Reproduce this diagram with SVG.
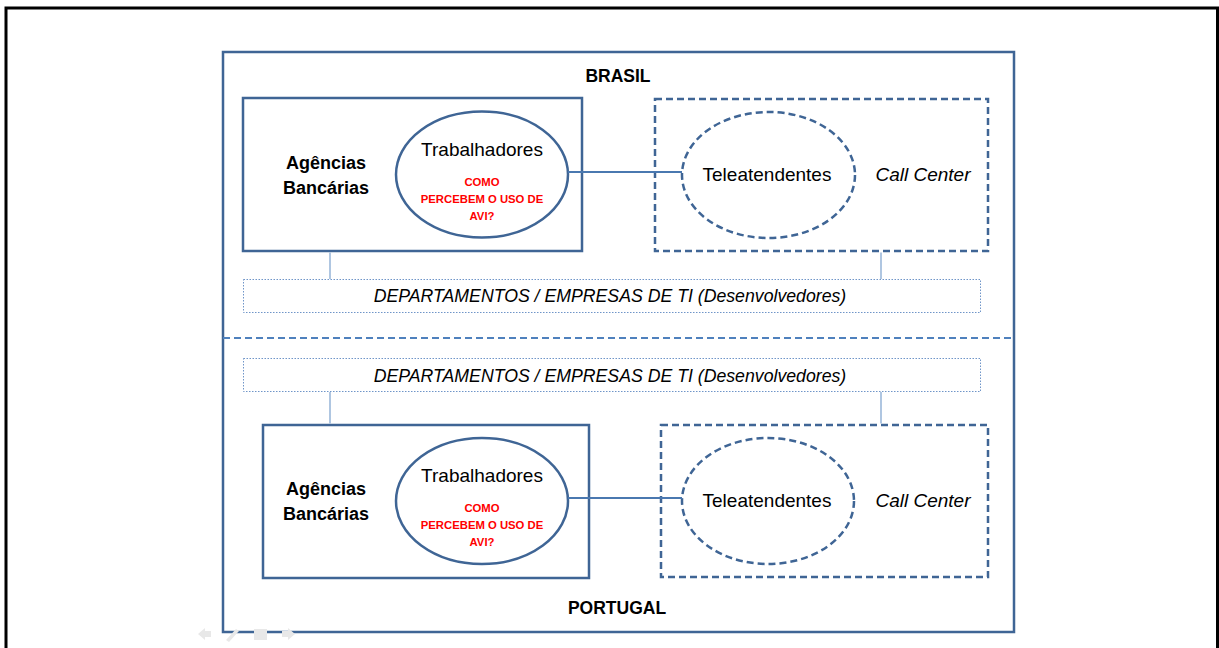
<svg xmlns="http://www.w3.org/2000/svg" width="1219" height="648" viewBox="0 0 1219 648">
<style>
text{font-family:"Liberation Sans",Arial,sans-serif;fill:#000}
.title{font-weight:bold;font-size:17.5px;text-anchor:middle}
.ag{font-weight:bold;font-size:18px;text-anchor:middle}
.main{font-size:19px;text-anchor:middle}
.red{font-weight:bold;font-size:11.3px;fill:#ff0000;text-anchor:middle}
.it{font-style:italic;font-size:17.7px;text-anchor:middle}
.cc{font-style:italic;font-size:19px;text-anchor:middle}
.solid{fill:#fff;stroke:#3f6595;stroke-width:2.5}
.dash{fill:none;stroke:#3f6595;stroke-width:2.5;stroke-dasharray:7 4}
.dept{fill:#fff;stroke:#6f95c8;stroke-width:1;stroke-dasharray:1.5 1.5}
.conn{stroke:#4a78b0;stroke-width:2;fill:none}
.thin{stroke:#95b3d7;stroke-width:1.5;fill:none}
</style>
<rect x="0" y="0" width="1219" height="648" fill="#fff"/>
<rect x="6" y="8" width="1211.5" height="660" fill="none" stroke="#000" stroke-width="3"/>
<g id="frame">
<rect x="223" y="52" width="791" height="580" fill="#fff" stroke="#3f6595" stroke-width="2.5"/>
<line x1="223" y1="338" x2="1014" y2="338" stroke="#4f81bd" stroke-width="2" stroke-dasharray="7 4"/>
<text class="title" x="618" y="82">BRASIL</text>
<text class="title" x="617" y="614">PORTUGAL</text>
</g>
<g id="br-agencias">
<rect class="solid" x="243" y="98" width="339" height="153"/>
<text class="ag" x="326" y="169">Agências</text>
<text class="ag" x="326" y="194">Bancárias</text>
</g>
<g id="br-trabalhadores">
<ellipse class="solid" cx="482" cy="174.5" rx="86" ry="63"/>
<text class="main" x="482" y="156">Trabalhadores</text>
<text class="red" x="482" y="186">COMO</text>
<text class="red" x="482" y="203">PERCEBEM O USO DE</text>
<text class="red" x="482" y="220">AVI?</text>
</g>
<g id="br-callcenter">
<rect class="dash" x="655" y="99" width="333" height="152"/>
<text class="cc" x="923" y="181">Call Center</text>
</g>
<g id="br-teleatendentes">
<ellipse class="dash" cx="768.5" cy="175" rx="86.5" ry="63"/>
<text class="main" x="767" y="181">Teleatendentes</text>
</g>
<g id="br-dept">
<rect class="dept" x="243.5" y="279.5" width="737" height="33"/>
<text class="it" x="610" y="302">DEPARTAMENTOS / EMPRESAS DE TI (Desenvolvedores)</text>
</g>
<g id="pt-dept">
<rect class="dept" x="243.5" y="358.5" width="737" height="33"/>
<text class="it" x="610" y="382">DEPARTAMENTOS / EMPRESAS DE TI (Desenvolvedores)</text>
</g>
<g id="pt-agencias">
<rect class="solid" x="263" y="425" width="326" height="153"/>
<text class="ag" x="326" y="495">Agências</text>
<text class="ag" x="326" y="520">Bancárias</text>
</g>
<g id="pt-trabalhadores">
<ellipse class="solid" cx="482" cy="501" rx="86" ry="63"/>
<text class="main" x="482" y="482">Trabalhadores</text>
<text class="red" x="482" y="512">COMO</text>
<text class="red" x="482" y="529">PERCEBEM O USO DE</text>
<text class="red" x="482" y="546">AVI?</text>
</g>
<g id="pt-callcenter">
<rect class="dash" x="661" y="425" width="327" height="152"/>
<text class="cc" x="923" y="507">Call Center</text>
</g>
<g id="pt-teleatendentes">
<ellipse class="dash" cx="768" cy="501" rx="86" ry="63"/>
<text class="main" x="767" y="507">Teleatendentes</text>
</g>
<g id="connectors">
<line class="conn" x1="568" y1="172" x2="682" y2="172"/>
<line class="conn" x1="568" y1="498" x2="682" y2="498"/>
<line class="thin" x1="330" y1="252.5" x2="330" y2="279"/>
<line class="thin" x1="881" y1="252.5" x2="881" y2="279"/>
<line class="thin" x1="330" y1="392" x2="330" y2="423.5"/>
<line class="thin" x1="881" y1="392" x2="881" y2="423.5"/>
</g>
<g id="nav" fill="#e8e8e8">
<polygon points="198,634 205,628 205,631 211,631 211,637 205,637 205,640"/>
<polygon points="226,640 236,629 239,631 229,642"/>
<rect x="254" y="629" width="13" height="11"/>
<polygon points="295,634 288,628 288,631 282,631 282,637 288,637 288,640"/>
</g>
</svg>
